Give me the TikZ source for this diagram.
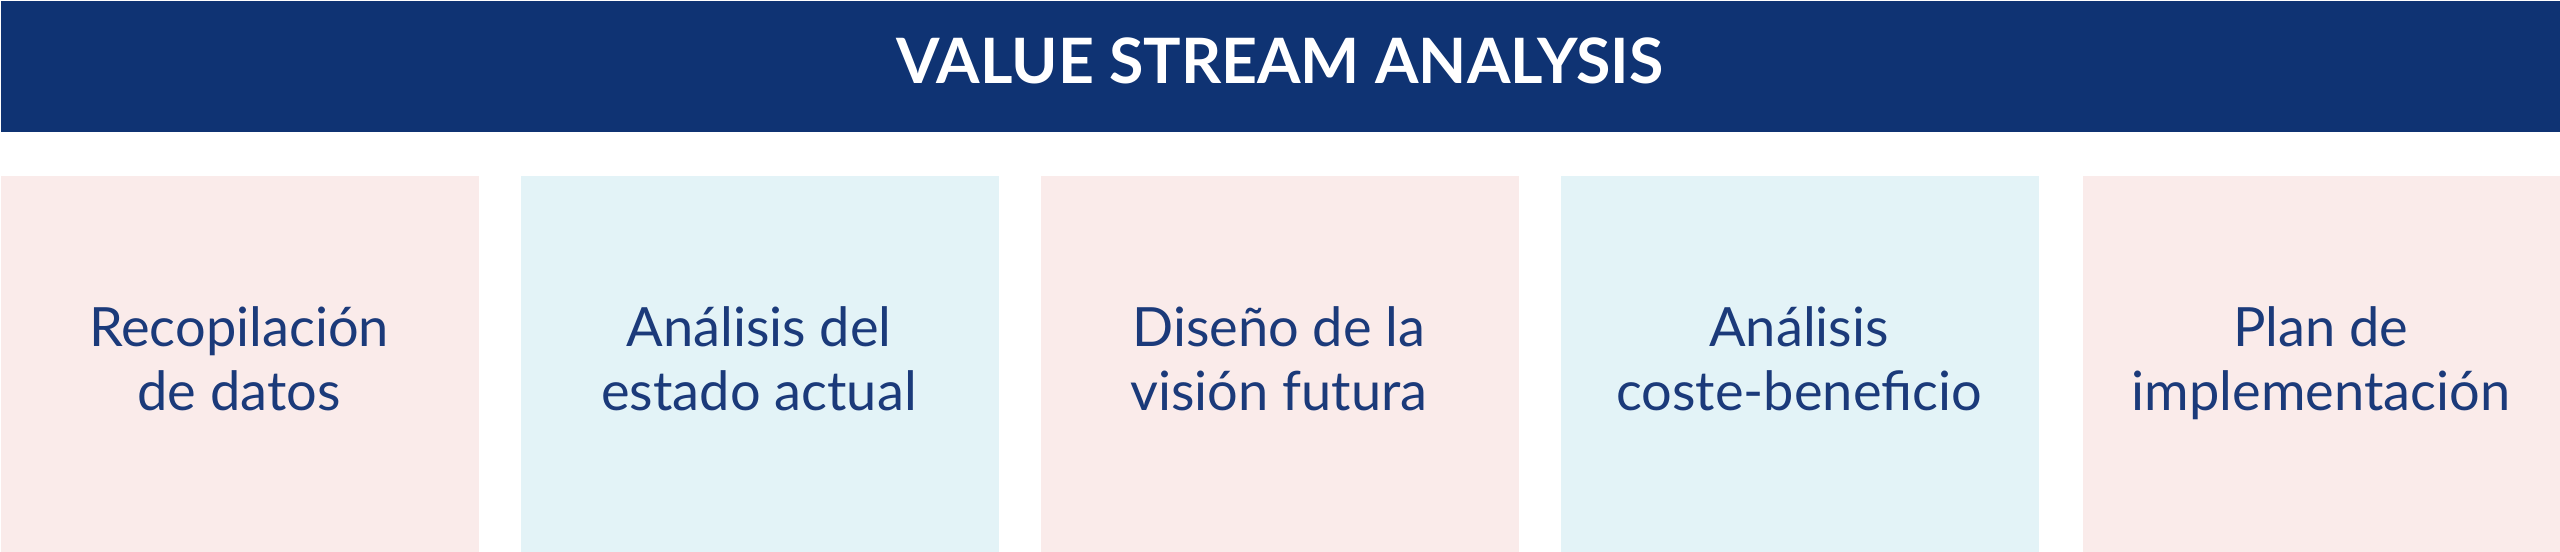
\documentclass[tikz,border=0pt]{standalone}
\usepackage{fontspec}
\setmainfont{Lato}
\newfontfamily\headfont{Lato}
\definecolor{navy}{HTML}{0F3373}
\definecolor{pinkbox}{HTML}{FAEBEA}
\definecolor{bluebox}{HTML}{E3F3F7}
\definecolor{textblue}{HTML}{1B3A7A}
\begin{document}
\begin{tikzpicture}[x=0.01cm,y=-0.01cm,
  panel/.style={draw=none,inner sep=0pt,anchor=north west,minimum height=3.76cm,minimum width=4.78cm},
  label/.style={text=textblue,align=center,font=\fontsize{15.4pt}{18.2pt}\selectfont,anchor=base,inner sep=0pt}]
\useasboundingbox (0,0) rectangle (2560,551);
\fill[white] (0,0) rectangle (2560,551);
\node[fill=navy,inner sep=0pt,anchor=north west,minimum width=25.6cm,minimum height=1.31cm] (head) at (0,0) {};
\node[text=white,anchor=base,inner sep=0pt,font=\headfont\bfseries\fontsize{17.8pt}{17.8pt}\selectfont] (title) at (1280,83) {VALUE STREAM ANALYSIS};
\node[panel,fill=pinkbox] (b1) at (0,175) {};
\node[panel,fill=bluebox] (b2) at (520,175) {};
\node[panel,fill=pinkbox] (b3) at (1040,175) {};
\node[panel,fill=bluebox] (b4) at (1560,175) {};
\node[panel,fill=pinkbox] (b5) at (2082,175) {};
\node[label] (t1) at (239,410) {Recopilación\\de datos};
\node[label] (t2) at (759,410) {Análisis del\\estado actual};
\node[label] (t3) at (1279,410) {Diseño de la\\visión futura};
\node[label] (t4) at (1799,410) {Análisis\\coste-beneficio};
\node[label] (t5) at (2321,410) {Plan de\\implementación};
\end{tikzpicture}
\end{document}
